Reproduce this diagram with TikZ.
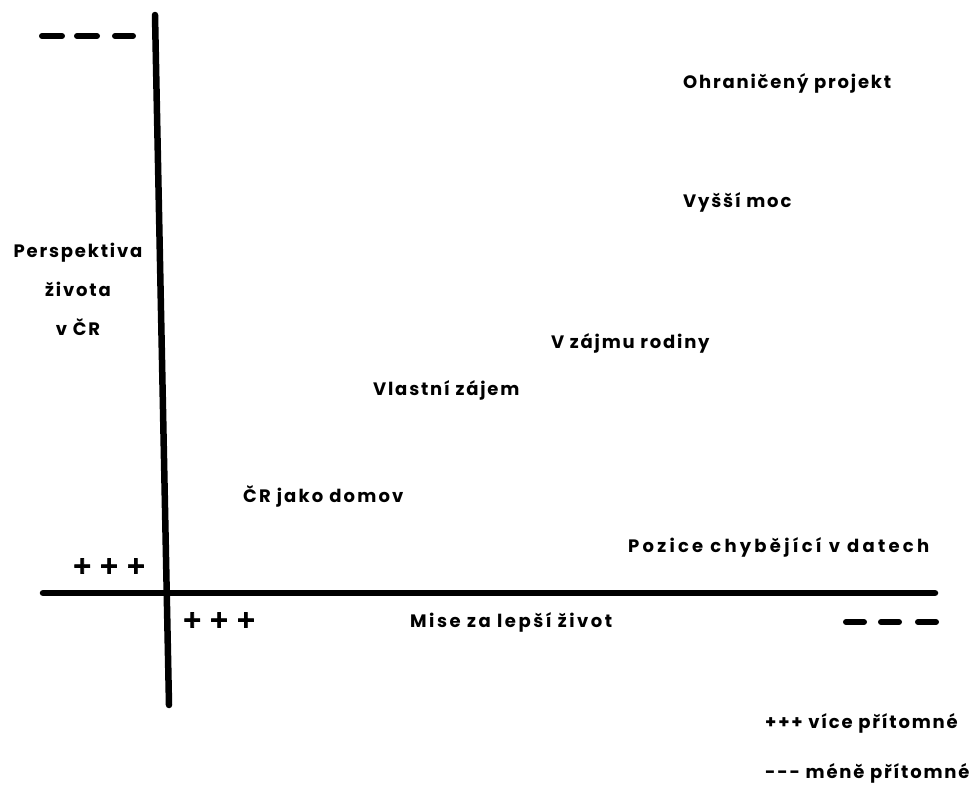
\documentclass[tikz,border=0pt]{standalone}
\usepackage{fontspec}
\newfontfamily\lblfont{Poppins}[LetterSpace=10]
\newfontfamily\markfont{DejaVu Sans}[LetterSpace=28,FakeBold=3]
\begin{document}
\begin{tikzpicture}[x=1pt,y=-1pt,
  axis/.style={line width=6.5pt,line cap=round},
  dashmark/.style={line width=6pt,line cap=round},
  lbl/.style={font=\lblfont\fontsize{18}{20}\selectfont\bfseries,inner sep=0pt,anchor=west},
  plusmark/.style={font=\markfont\fontsize{24}{26}\selectfont\bfseries,inner sep=0pt,anchor=west}]
\useasboundingbox[fill=white] (0,0) rectangle (972,785);
% axes
\coordinate (ytop) at (155,15);
\coordinate (ybot) at (169,705);
\coordinate (xleft) at (43,593);
\coordinate (xright) at (935,593);
\draw[axis] (ytop) -- (ybot);
\draw[axis] (xleft) -- (xright);
% minus marks at the axis ends
\foreach \a/\b in {42/62,77/97,115/133}
  \draw[dashmark] (\a,36) -- (\b,36);
\foreach \a/\b in {846/864,881/899,918/936}
  \draw[dashmark] (\a,622) -- (\b,622);
% plus marks near the origin
\node[plusmark] (plusy) at (72,566) {+++};
\node[plusmark] (plusx) at (182,620) {+++};
% vertical axis title
\node[font=\lblfont\fontsize{18}{39}\selectfont\bfseries,align=center,inner sep=0pt] (ytitle) at (78,289) {Perspektiva\\života\\v ČR};
% positions
\node[lbl] (ohr) at (683,83) {Ohraničený projekt};
\node[lbl] (vys) at (683,202) {Vyšší moc};
\node[lbl] (rod) at (551,343) {V zájmu rodiny};
\node[lbl] (vla) at (373,390) {Vlastní zájem};
\node[lbl] (dom) at (243,496) {\addfontfeature{LetterSpace=12}ČR jako domov};
\node[lbl] (poz) at (628,547) {\addfontfeature{LetterSpace=18}Pozice chybějící v datech};
\node[lbl] (mis) at (410,622) {\addfontfeature{LetterSpace=14}Mise za lepší život};
% legend
\node[lbl] (leg1) at (765,723) {+++ více přítomné};
\node[lbl] (leg2) at (765,773) {-{}-{}- méně přítomné};
\end{tikzpicture}
\end{document}
